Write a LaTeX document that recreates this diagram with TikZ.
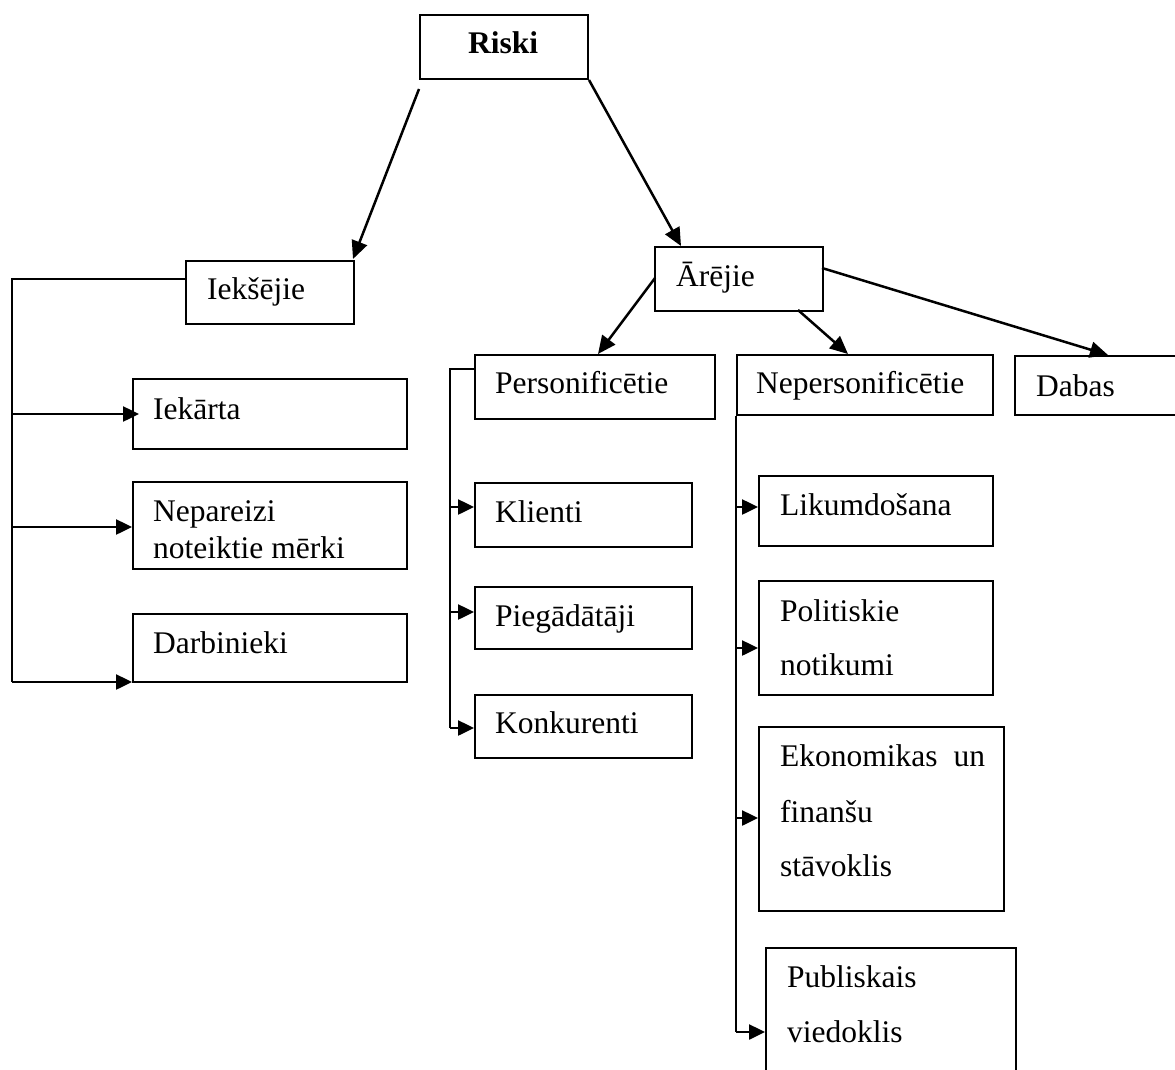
\documentclass[tikz,border=0pt]{standalone}
\usepackage{fontspec}
\setmainfont{Liberation Serif}
\usetikzlibrary{arrows.meta}
\tikzset{
  box/.style={draw=black, line width=2pt, rectangle, inner sep=0pt, anchor=north west},
  lbl/.style={inner sep=0pt, anchor=base west, font=\fontsize{31.5}{36}\selectfont},
  conn/.style={draw=black, line width=2.5pt},
  bigarr/.style={conn, -{Triangle[length=18pt,width=16pt]}},
  smallarr/.style={conn, -{Triangle[length=16pt,width=15pt]}}
}
\begin{document}
\begin{tikzpicture}[x=1pt,y=-1pt]
\clip (0,0) rectangle (1175,1070);
\fill[white] (0,0) rectangle (1175,1070);

% boxes
\node[box, minimum width=168pt, minimum height=64pt] (riski) at (419,14) {};
\node[box, minimum width=168pt, minimum height=63pt] (iek) at (185,260) {};
\node[box, minimum width=274pt, minimum height=70pt] (iekarta) at (132,378) {};
\node[box, minimum width=274pt, minimum height=87pt] (nep) at (132,481) {};
\node[box, minimum width=274pt, minimum height=68pt] (darb) at (132,613) {};
\node[box, minimum width=168pt, minimum height=64pt] (arejie) at (654,246) {};
\node[box, minimum width=240pt, minimum height=64pt] (pers) at (474,354) {};
\node[box, minimum width=256pt, minimum height=60pt] (npers) at (736,354) {};
\node[box, minimum width=170pt, minimum height=59pt] (dabas) at (1014,355) {};
\node[box, minimum width=217pt, minimum height=64pt] (klienti) at (474,482) {};
\node[box, minimum width=217pt, minimum height=62pt] (pieg) at (474,586) {};
\node[box, minimum width=217pt, minimum height=63pt] (konk) at (474,694) {};
\node[box, minimum width=234pt, minimum height=70pt] (likum) at (758,475) {};
\node[box, minimum width=234pt, minimum height=114pt] (polit) at (758,580) {};
\node[box, minimum width=245pt, minimum height=184pt] (ekon) at (758,726) {};
\node[box, minimum width=250pt, minimum height=140pt] (publ) at (765,947) {};

% labels
\node[lbl] (riskiT) at (468,54) {\textbf{Riski}};
\node[lbl] (iekT) at (207,299) {Iekšējie};
\node[lbl] (iekartaT) at (153,419) {Iekārta};
\node[lbl] (nepT1) at (153,521) {Nepareizi};
\node[lbl] (nepT2) at (153,558) {noteiktie mērki};
\node[lbl] (darbT) at (153,653) {Darbinieki};
\node[lbl] (arejieT) at (676,286) {Ārējie};
\node[lbl] (persT) at (495,393) {Personificētie};
\node[lbl] (npersT) at (756,393) {Nepersonificētie};
\node[lbl] (dabasT) at (1036,396) {Dabas};
\node[lbl] (klientiT) at (495,522) {Klienti};
\node[lbl] (piegT) at (495,626) {Piegādātāji};
\node[lbl] (konkT) at (495,733) {Konkurenti};
\node[lbl] (likumT) at (780,515) {Likumdošana};
\node[lbl] (politT1) at (780,621) {Politiskie};
\node[lbl] (politT2) at (780,675) {notikumi};
\node[lbl] (ekonT1) at (780,766) {Ekonomikas\hspace{8pt} un};
\node[lbl] (ekonT2) at (780,822) {finanšu};
\node[lbl] (ekonT3) at (780,876) {stāvoklis};
\node[lbl] (publT1) at (787,987) {Publiskais};
\node[lbl] (publT2) at (787,1042) {viedoklis};

% main arrows
\coordinate (rL) at (419,89);
\draw[bigarr] (rL) -- (353,259);
\draw[bigarr] (riski.south east) -- (681,246);
\coordinate (aL) at (655,278);
\draw[bigarr] (aL) -- (598,354);
\coordinate (aB) at (798,310);
\draw[bigarr] (aB) -- (848,354);
\coordinate (aR) at (822,268);
\draw[bigarr] (aR) -- (1108,355);

% Iekšējie branch
\coordinate (t1) at (12,279);
\coordinate (t2) at (12,682);
\draw[conn] (iek.west |- t1) -- (t1) -- (t2);
\draw[smallarr] (12,414) -- (139,414);
\draw[smallarr] (12,527) -- (iekarta.west |- 0,527);
\draw[smallarr] (t2) -- (iekarta.west |- t2);

% Personificētie branch
\coordinate (p1) at (450,369);
\coordinate (p2) at (450,728);
\draw[conn, line width=2pt] (pers.west |- p1) -- (p1) -- (p2);
\draw[smallarr] (450,507) -- (klienti.west |- 0,507);
\draw[smallarr] (450,612) -- (pieg.west |- 0,612);
\draw[smallarr] (p2) -- (konk.west |- p2);

% Nepersonificētie branch
\coordinate (n2) at (736,1032);
\draw[conn] (npers.south west) -- (n2);
\draw[smallarr] (736,507) -- (likum.west |- 0,507);
\draw[smallarr] (736,648) -- (polit.west |- 0,648);
\draw[smallarr] (736,818) -- (ekon.west |- 0,818);
\draw[smallarr] (n2) -- (publ.west |- n2);
\end{tikzpicture}
\end{document}
